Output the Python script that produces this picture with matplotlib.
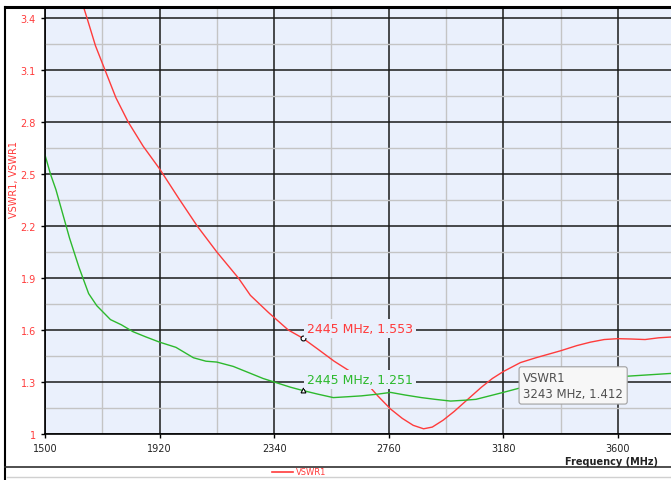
import numpy as np
import matplotlib.pyplot as plt
from matplotlib.lines import Line2D

# Frequency (MHz) and VSWR for the two measurements
freq_red = [1630, 1654, 1685, 1720, 1760, 1805, 1860, 1920, 1990, 2058, 2130, 2209,
            2253, 2320, 2392, 2445, 2500, 2560, 2620, 2675, 2720, 2767, 2810, 2850,
            2888, 2920, 2960, 3000, 3050, 3100, 3140, 3180, 3243, 3300, 3390, 3450,
            3500, 3550, 3600, 3650, 3700, 3750, 3800]
vswr_red = [3.52, 3.40, 3.24, 3.10, 2.94, 2.80, 2.66, 2.53, 2.36, 2.20, 2.05, 1.90,
            1.80, 1.70, 1.60, 1.553, 1.49, 1.42, 1.36, 1.30, 1.22, 1.144, 1.09, 1.05,
            1.03, 1.04, 1.08, 1.13, 1.20, 1.27, 1.32, 1.36, 1.412, 1.44, 1.48, 1.51,
            1.53, 1.545, 1.55, 1.548, 1.545, 1.555, 1.56]

freq_green = [1500, 1520, 1540, 1565, 1590, 1625, 1660, 1690, 1740, 1780, 1823, 1870,
              1920, 1980, 2044, 2090, 2130, 2190, 2253, 2300, 2340, 2400, 2445, 2500,
              2557, 2610, 2660, 2720, 2767, 2820, 2880, 2930, 2987, 3040, 3080, 3130,
              3180, 3240, 3300, 3380, 3450, 3520, 3600, 3650, 3700, 3750, 3800]
vswr_green = [2.61, 2.50, 2.41, 2.27, 2.13, 1.96, 1.81, 1.74, 1.66, 1.63, 1.59, 1.56,
              1.53, 1.50, 1.44, 1.42, 1.415, 1.39, 1.35, 1.32, 1.30, 1.27, 1.251, 1.23,
              1.21, 1.215, 1.22, 1.23, 1.24, 1.225, 1.21, 1.20, 1.19, 1.195, 1.20, 1.22,
              1.24, 1.265, 1.29, 1.31, 1.33, 1.33, 1.33, 1.335, 1.34, 1.345, 1.35]

x_major = [1500, 1920, 2340, 2760, 3180, 3600]
x_minor = [1710, 2130, 2550, 2970, 3390]
y_major = [1, 1.3, 1.6, 1.9, 2.2, 2.5, 2.8, 3.1, 3.4]
y_labels = ['1', '1.3', '1.6', '1.9', '2.2', '2.5', '2.8', '3.1', '3.4']
y_minor = [1.15, 1.45, 1.75, 2.05, 2.35, 2.65, 2.95, 3.25]

marker_freq = 2445
marker_red = 1.553
marker_green = 1.251
tip_freq = 3243
tip_val = 1.412

bg = '#eaf0fc'
red = '#ff3b3b'
green = '#2db92d'

fig = plt.figure(figsize=(6.71, 4.81), dpi=100)
ax = fig.add_axes([45 / 671, 46 / 481, 1 - 45 / 671 + 0.002, 425 / 481])
ax.set_facecolor(bg)
ax.set_xlim(1500, 3800)
ax.set_ylim(1, 3.452)

ax.set_xticks(x_major)
ax.set_xticks(x_minor, minor=True)
ax.set_yticks(y_major)
ax.set_yticklabels(y_labels)
ax.set_yticks(y_minor, minor=True)
ax.grid(which='major', color='#1a1a1a', lw=1.1)
ax.grid(which='minor', color='#c4c4c4', lw=1.0)
ax.tick_params(axis='y', which='major', labelsize=7, labelcolor=red, length=3, width=1)
ax.tick_params(axis='x', which='major', labelsize=7, labelcolor='#222222', length=3, width=1)
ax.tick_params(which='minor', length=0)
ax.set_axisbelow(True)
for s in ['top', 'right']:
    ax.spines[s].set_visible(False)
ax.spines['left'].set_linewidth(1.2)
ax.spines['bottom'].set_linewidth(1.2)

ax.plot(freq_red, vswr_red, color=red, lw=1.0)
ax.plot(freq_green, vswr_green, color=green, lw=1.0)

# marker points and readouts
ax.plot([marker_freq], [marker_red], marker='o', ms=3.5, mfc='white', mec='black', mew=0.8)
ax.plot([marker_freq], [marker_green], marker='^', ms=3.5, mfc='white', mec='black', mew=0.8)
ax.annotate(f'{marker_freq} MHz, {marker_red}', (marker_freq, marker_red),
            xytext=(3, 7), textcoords='offset points', va='center', ha='left',
            color=red, fontsize=9,
            bbox=dict(boxstyle='square,pad=0.25', fc=bg, ec='none'))
ax.annotate(f'{marker_freq} MHz, {marker_green}', (marker_freq, marker_green),
            xytext=(3, 8), textcoords='offset points', va='center', ha='left',
            color=green, fontsize=9,
            bbox=dict(boxstyle='square,pad=0.25', fc=bg, ec='none'))

# hover tooltip
ax.annotate(f'VSWR1\n{tip_freq} MHz, {tip_val}', (tip_freq, tip_val),
            xytext=(2, -6), textcoords='offset points', va='top', ha='left',
            color='#505050', fontsize=8.5, linespacing=1.3, zorder=10,
            bbox=dict(boxstyle='round,pad=0.35,rounding_size=0.2', fc='#f7f7f7',
                      ec='#a0a0a0', lw=0.8))

ax.set_ylabel('VSWR1, VSWR1', color=red, fontsize=7)
ax.yaxis.set_label_coords(-26 / 626, 0.6)
fig.text(565 / 671, 1 - 462 / 481, 'Frequency (MHz)', fontsize=7, fontweight='bold',
         color='#222222', va='center', ha='left')

# window frame and legend strip
fig.add_artist(Line2D([5 / 671, 1], [1 - 8 / 481] * 2, color='black', lw=2.2))
fig.add_artist(Line2D([5 / 671] * 2, [0, 1 - 8 / 481], color='black', lw=1.5))
fig.add_artist(Line2D([5 / 671, 1], [1 - 467.5 / 481] * 2, color='#303030', lw=1.2))
fig.add_artist(Line2D([7 / 671, 1], [1 - 478 / 481] * 2, color='#d0d0d0', lw=1.0))
fig.add_artist(Line2D([272 / 671, 293 / 671], [1 - 473 / 481] * 2, color=red, lw=1.2))
fig.text(296 / 671, 1 - 473 / 481, 'VSWR1', color=red, fontsize=6, va='center', ha='left')

fig.savefig('out.png', dpi=100)
